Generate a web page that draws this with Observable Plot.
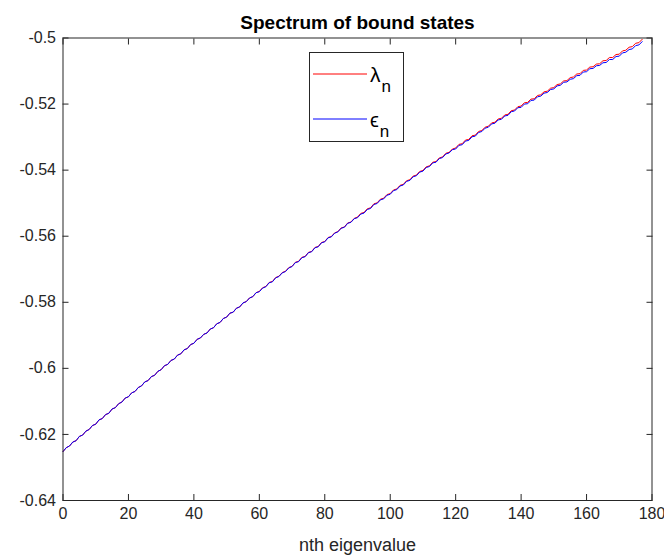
<!DOCTYPE html>
<html><head><meta charset="utf-8">
<script src="https://cdn.jsdelivr.net/npm/d3@7"></script>
<script src="https://cdn.jsdelivr.net/npm/@observablehq/plot@0.6"></script>
<style>body{margin:0;background:#fff}#chart{width:664px;height:558px}</style>
</head><body><div id="chart"></div>
<script>
// n = 0 .. 177
const lambdaN = [
-0.6252,-0.6240,-0.6235,-0.6223,-0.6219,-0.6206,-0.6202,-0.6190,-0.6185,-0.6173,
-0.6169,-0.6156,-0.6152,-0.6140,-0.6136,-0.6123,-0.6119,-0.6107,-0.6102,-0.6090,
-0.6086,-0.6074,-0.6070,-0.6058,-0.6053,-0.6041,-0.6037,-0.6025,-0.6021,-0.6009,
-0.6004,-0.5992,-0.5988,-0.5976,-0.5972,-0.5960,-0.5956,-0.5944,-0.5940,-0.5928,
-0.5924,-0.5912,-0.5908,-0.5897,-0.5893,-0.5881,-0.5877,-0.5865,-0.5861,-0.5849,
-0.5845,-0.5833,-0.5830,-0.5818,-0.5814,-0.5802,-0.5798,-0.5787,-0.5783,-0.5771,
-0.5767,-0.5756,-0.5752,-0.5740,-0.5737,-0.5725,-0.5721,-0.5710,-0.5706,-0.5695,
-0.5691,-0.5679,-0.5676,-0.5664,-0.5661,-0.5649,-0.5646,-0.5634,-0.5631,-0.5619,
-0.5616,-0.5604,-0.5601,-0.5590,-0.5586,-0.5575,-0.5572,-0.5560,-0.5557,-0.5546,
-0.5542,-0.5531,-0.5528,-0.5517,-0.5514,-0.5502,-0.5499,-0.5488,-0.5485,-0.5474,
-0.5471,-0.5460,-0.5457,-0.5446,-0.5443,-0.5432,-0.5429,-0.5418,-0.5415,-0.5404,
-0.5401,-0.5390,-0.5387,-0.5376,-0.5374,-0.5363,-0.5360,-0.5349,-0.5346,-0.5336,
-0.5333,-0.5322,-0.5320,-0.5309,-0.5307,-0.5296,-0.5294,-0.5283,-0.5280,-0.5270,
-0.5267,-0.5257,-0.5255,-0.5245,-0.5243,-0.5233,-0.5231,-0.5220,-0.5218,-0.5208,
-0.5206,-0.5196,-0.5195,-0.5185,-0.5184,-0.5174,-0.5172,-0.5163,-0.5161,-0.5152,
-0.5150,-0.5141,-0.5139,-0.5130,-0.5129,-0.5120,-0.5118,-0.5109,-0.5108,-0.5098,
-0.5097,-0.5088,-0.5087,-0.5079,-0.5078,-0.5069,-0.5068,-0.5059,-0.5059,-0.5050,
-0.5049,-0.5039,-0.5037,-0.5028,-0.5026,-0.5016,-0.5014,-0.5004
];
const epsilonN = [
-0.6252,-0.6240,-0.6235,-0.6223,-0.6219,-0.6206,-0.6202,-0.6190,-0.6185,-0.6173,
-0.6169,-0.6156,-0.6152,-0.6140,-0.6136,-0.6123,-0.6119,-0.6107,-0.6102,-0.6090,
-0.6086,-0.6074,-0.6070,-0.6058,-0.6053,-0.6041,-0.6037,-0.6025,-0.6021,-0.6009,
-0.6004,-0.5992,-0.5988,-0.5976,-0.5972,-0.5960,-0.5956,-0.5944,-0.5940,-0.5928,
-0.5924,-0.5912,-0.5908,-0.5897,-0.5893,-0.5881,-0.5877,-0.5865,-0.5861,-0.5849,
-0.5845,-0.5833,-0.5830,-0.5818,-0.5814,-0.5802,-0.5798,-0.5787,-0.5783,-0.5771,
-0.5768,-0.5757,-0.5753,-0.5741,-0.5738,-0.5726,-0.5722,-0.5711,-0.5707,-0.5696,
-0.5692,-0.5680,-0.5677,-0.5665,-0.5662,-0.5650,-0.5647,-0.5635,-0.5632,-0.5620,
-0.5617,-0.5605,-0.5602,-0.5591,-0.5587,-0.5576,-0.5573,-0.5561,-0.5558,-0.5547,
-0.5544,-0.5533,-0.5530,-0.5519,-0.5516,-0.5504,-0.5501,-0.5490,-0.5487,-0.5476,
-0.5473,-0.5462,-0.5459,-0.5448,-0.5445,-0.5434,-0.5431,-0.5420,-0.5417,-0.5406,
-0.5403,-0.5392,-0.5389,-0.5378,-0.5376,-0.5365,-0.5362,-0.5351,-0.5348,-0.5338,
-0.5336,-0.5325,-0.5323,-0.5312,-0.5310,-0.5299,-0.5297,-0.5286,-0.5283,-0.5273,
-0.5270,-0.5260,-0.5258,-0.5248,-0.5246,-0.5236,-0.5234,-0.5223,-0.5221,-0.5211,
-0.5210,-0.5200,-0.5199,-0.5189,-0.5188,-0.5178,-0.5176,-0.5167,-0.5165,-0.5156,
-0.5154,-0.5145,-0.5143,-0.5134,-0.5133,-0.5125,-0.5123,-0.5114,-0.5113,-0.5103,
-0.5102,-0.5093,-0.5092,-0.5084,-0.5083,-0.5075,-0.5074,-0.5065,-0.5065,-0.5056,
-0.5055,-0.5045,-0.5043,-0.5035,-0.5033,-0.5023,-0.5021,-0.5011
];
const xTicks = [0, 20, 40, 60, 80, 100, 120, 140, 160, 180];
const xTickLabels = ["0","20","40","60","80","100","120","140","160","180"];
const yTicks = [-0.64, -0.62, -0.6, -0.58, -0.56, -0.54, -0.52, -0.5];
const yTickLabels = ["-0.64","-0.62","-0.6","-0.58","-0.56","-0.54","-0.52","-0.5"];
const titleText = "Spectrum of bound states";
const xLabelText = "nth eigenvalue";
const seriesSymbols = ["λ", "ϵ"];
const seriesSub = "n";
const seriesColors = ["#ff0000", "#0000ff"];

const lamRows = lambdaN.map((v, i) => ({n: i, v}));
const epsRows = epsilonN.map((v, i) => ({n: i, v}));

const font = "'Liberation Sans', Arial, Helvetica, sans-serif";
const ink = "#262626";

const chart = Plot.plot({
  width: 664, height: 558,
  marginLeft: 62.5, marginRight: 12.5, marginTop: 37.5, marginBottom: 58,
  style: {fontFamily: font, fontSize: "16px", color: ink, background: "#fff", overflow: "visible"},
  x: {domain: [0, 180]},
  y: {domain: [-0.64, -0.5]},
  marks: [
    Plot.line(lamRows, {x: "n", y: "v", stroke: seriesColors[0], strokeWidth: 1}),
    Plot.line(epsRows, {x: "n", y: "v", stroke: seriesColors[1], strokeWidth: 1}),
    Plot.frame({stroke: ink, strokeWidth: 1}),
    Plot.axisX(xTicks, {anchor: "bottom", tickSize: -6, tickPadding: 13, stroke: ink,
      tickFormat: d => xTickLabels[xTicks.indexOf(d)], fill: ink, fontSize: 16, label: null}),
    Plot.axisX(xTicks, {anchor: "top", tickSize: -6, stroke: ink, tickFormat: () => "", label: null}),
    Plot.axisY(yTicks, {anchor: "left", tickSize: -6, tickPadding: 13, stroke: ink,
      tickFormat: d => yTickLabels[yTicks.indexOf(d)], fill: ink, fontSize: 16, label: null}),
    Plot.axisY(yTicks, {anchor: "right", tickSize: -6, stroke: ink, tickFormat: () => "", label: null}),
    Plot.text([xLabelText], {frameAnchor: "bottom", dy: 38, lineAnchor: "top", fontSize: 18, fill: ink}),
    Plot.text([titleText], {frameAnchor: "top", dy: -9, lineAnchor: "bottom", fontWeight: "bold", fontSize: 19, fill: "#000"})
  ]
});
document.getElementById("chart").appendChild(chart);

// Legend box (MATLAB style) inside the axes
const svg = d3.select(chart);
const lg = svg.append("g").attr("font-family", font).attr("text-anchor", "start");
lg.append("rect").attr("x", 309.5).attr("y", 52.5).attr("width", 94).attr("height", 89)
  .attr("fill", "#fff").attr("stroke", ink).attr("stroke-width", 1);
const rowsY = [74, 119];
seriesSymbols.forEach((s, i) => {
  lg.append("line").attr("x1", 313).attr("x2", 367).attr("y1", rowsY[i]).attr("y2", rowsY[i])
    .attr("stroke", seriesColors[i]).attr("stroke-width", 1);
  const t = lg.append("text").attr("x", 370).attr("y", rowsY[i] + 8).attr("fill", "#000")
    .attr("text-anchor", "start");
  t.append("tspan").attr("font-size", i === 0 ? 21 : 20).text(s);
  t.append("tspan").attr("font-size", 17).attr("dy", 10).attr("dx", 1).text(seriesSub);
});
</script></body></html>
